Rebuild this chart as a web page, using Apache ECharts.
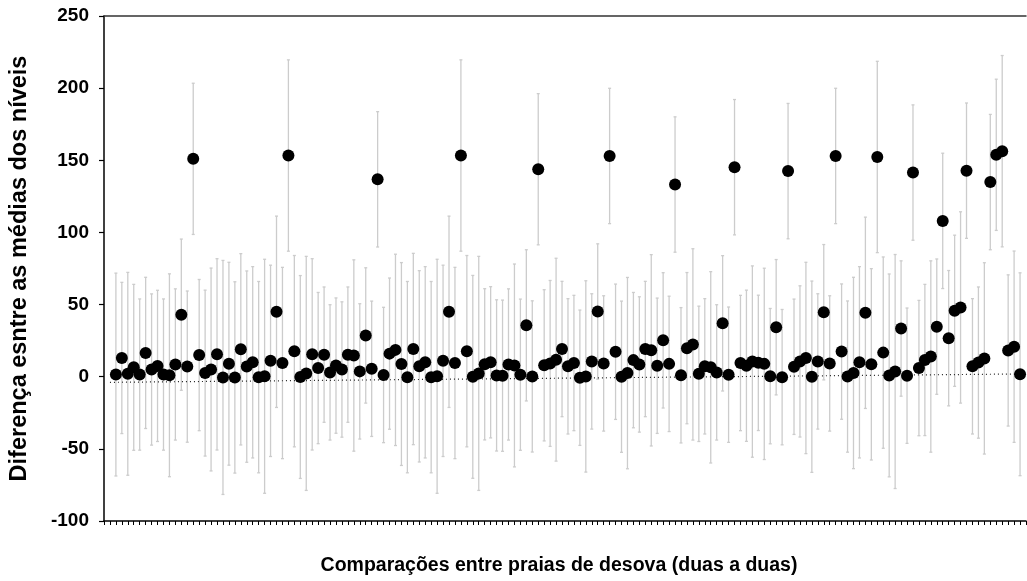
<!DOCTYPE html>
<html>
<head>
<meta charset="utf-8">
<script src="https://cdn.jsdelivr.net/npm/echarts@6/dist/echarts.min.js"></script>
<style>
  html, body { margin: 0; padding: 0; background: #fff; }
  #chart { width: 1027px; height: 581px; }
</style>
</head>
<body>
<div id="chart"></div>
<script>
// Pairwise comparisons between nesting beaches: difference between level means
// with its confidence half-width. Comparison numbers start at 2 on an axis 0..155.
const firstComparison = 2;

const meanDiff = [
  1.5, 13, 2, 6.5, 1.5, 16.5, 5, 7.5, 1.5, 1,
  8.5, 43, 7, 151, 15, 2.5, 5, 15.5, -0.5, 9,
  -0.5, 19, 7, 10, -0.3, 0.3, 11, 45, 9.5, 153.3,
  17.7, -0.2, 2.3, 15.5, 6, 15.3, 3, 7.7, 5, 15.3,
  14.7, 3.7, 28.6, 5.5, 136.8, 1.2, 16, 18.6, 8.8, -0.3,
  19.2, 7.2, 10, -0.3, 0.3, 11, 45, 9.5, 153.3, 17.7,
  -0.1, 2.3, 8.6, 10, 0.9, 0.7, 8.5, 7.8, 1.4, 35.6,
  0.2, 143.8, 7.9, 9.2, 11.8, 19.2, 7.2, 9.5, -0.7, 0.2,
  10.6, 45.2, 9.2, 153, 17.3, 0, 2.5, 11.5, 8.5, 19.2,
  18.3, 7.6, 25.2, 8.9, 133.2, 1, 19.8, 22.4, 2, 7.2,
  6.5, 3, 37, 1.4, 145.2, 9.5, 7.6, 10.5, 9.6, 8.9,
  0.4, 34.3, -0.3, 142.5, 6.9, 10.6, 13, 0, 10.6, 44.7,
  9.2, 153, 17.4, 0.1, 2.6, 10, 44.3, 8.6, 152.3, 16.7,
  0.9, 3.6, 33.4, 0.7, 141.5, 6, 11.6, 14, 34.7, 108,
  26.7, 45.7, 48, 142.8, 7.2, 9.8, 12.7, 134.9, 153.8, 156.3,
  18.2, 20.8, 1.7
];

const halfWidth = [
  70.3, 52.4, 70.3, 57.5, 52.4, 52.4, 52.4, 52.4, 52.4, 70.3,
  52.4, 52.4, 52.4, 52.4, 52.4, 57.5, 70.3, 66.3, 81.1, 70.3,
  66.3, 66.3, 66.3, 66.3, 66.3, 81.1, 66.3, 66.3, 66.3, 66.3,
  66.3, 70.3, 81.1, 66.3, 52.4, 46.9, 46.9, 46.9, 46.9, 46.9,
  66.3, 46.9, 46.9, 46.9, 46.9, 46.9, 52.4, 66.3, 70.3, 66.3,
  66.3, 66.3, 66.3, 66.3, 81.1, 66.3, 66.3, 66.3, 66.3, 66.3,
  70.3, 81.1, 52.4, 52.4, 52.4, 52.4, 52.4, 70.3, 52.4, 52.4,
  52.4, 52.4, 52.4, 57.5, 70.3, 46.9, 46.9, 46.9, 46.9, 66.3,
  46.9, 46.9, 46.9, 46.9, 46.9, 52.4, 66.3, 46.9, 46.9, 46.9,
  66.3, 46.9, 46.9, 46.9, 46.9, 46.9, 52.4, 66.3, 46.9, 46.9,
  66.3, 46.9, 46.9, 46.9, 46.9, 46.9, 52.4, 66.3, 46.9, 66.3,
  46.9, 46.9, 46.9, 46.9, 46.9, 52.4, 66.3, 66.3, 46.9, 46.9,
  46.9, 46.9, 46.9, 52.4, 66.3, 66.3, 66.3, 66.3, 66.3, 66.3,
  70.3, 81.1, 46.9, 46.9, 46.9, 46.9, 52.4, 66.3, 46.9, 46.9,
  46.9, 52.4, 66.3, 46.9, 46.9, 52.4, 66.3, 46.9, 52.4, 66.3,
  52.4, 66.3, 70.3
];

// Linear trend drawn as a dotted line across the comparisons
const trendX = [1, 154];
const trendY = [-3.9, 1.9];

const yTicks = { min: -100, max: 250, step: 50 };
const xRange = { min: 0, max: 155 };

const pointData = meanDiff.map((v, i) => [i + firstComparison, v]);
const barData = meanDiff.map((v, i) => [i + firstComparison, v - halfWidth[i], v + halfWidth[i]]);
const trendData = trendX.map((x, i) => [x, trendY[i]]);

const chart = echarts.init(document.getElementById('chart'), null, { renderer: 'canvas' });

const font = '"Liberation Sans", Arial, sans-serif';

chart.setOption({
  animation: false,
  backgroundColor: '#ffffff',
  grid: { left: 104, right: 1, top: 16, bottom: 59, containLabel: false },
  xAxis: [
    {
      type: 'value',
      min: xRange.min, max: xRange.max, interval: 1,
      name: 'Comparações entre praias de desova (duas a duas)',
      nameLocation: 'middle',
      nameGap: 35,
      nameTextStyle: { fontFamily: font, fontWeight: 'bold', fontSize: 19.5, color: '#000', padding: [0, 12, 0, 0] },
      axisLine: { show: true, onZero: false, lineStyle: { color: '#000', width: 1.5 } },
      axisTick: { show: true, length: 4, lineStyle: { color: '#000', width: 1 } },
      axisLabel: { show: false },
      splitLine: { show: false }
    },
    {
      type: 'value', position: 'top',
      min: xRange.min, max: xRange.max,
      axisLine: { show: true, onZero: false, lineStyle: { color: '#333', width: 1.5 } },
      axisTick: { show: false }, axisLabel: { show: false }, splitLine: { show: false }
    }
  ],
  yAxis: {
    type: 'value',
    min: yTicks.min, max: yTicks.max, interval: yTicks.step,
    name: 'Diferença esntre as médias dos níveis',
    nameLocation: 'middle',
    nameGap: 72,
    nameTextStyle: { fontFamily: font, fontWeight: 'bold', fontSize: 23.5, color: '#000' },
    axisLine: { show: true, onZero: false, lineStyle: { color: '#000', width: 1.5 } },
    axisTick: { show: true, length: 5, lineStyle: { color: '#000', width: 1.2 } },
    axisLabel: { fontFamily: font, fontWeight: 'bold', fontSize: 19, color: '#000', margin: 15 },
    splitLine: { show: false }
  },
  series: [
    {
      type: 'custom',
      name: 'intervalo',
      data: barData,
      z: 1,
      renderItem: function (params, api) {
        const x = api.value(0);
        const lo = api.coord([x, api.value(1)]);
        const hi = api.coord([x, api.value(2)]);
        const cap = 1.5;
        const style = { stroke: '#cccccc', lineWidth: 1.3 };
        return {
          type: 'group',
          children: [
            { type: 'line', shape: { x1: lo[0], y1: lo[1], x2: hi[0], y2: hi[1] }, style: style },
            { type: 'line', shape: { x1: hi[0] - cap, y1: hi[1], x2: hi[0] + cap, y2: hi[1] }, style: style },
            { type: 'line', shape: { x1: lo[0] - cap, y1: lo[1], x2: lo[0] + cap, y2: lo[1] }, style: style }
          ]
        };
      }
    },
    {
      type: 'line',
      name: 'tendência',
      data: trendData,
      symbol: 'none',
      z: 2,
      lineStyle: { color: '#222', width: 1.2, type: [1, 3] }
    },
    {
      type: 'scatter',
      name: 'diferença',
      data: pointData,
      symbol: 'circle',
      symbolSize: 12,
      z: 3,
      itemStyle: { color: '#000', opacity: 1 }
    }
  ]
});
</script>
</body>
</html>
